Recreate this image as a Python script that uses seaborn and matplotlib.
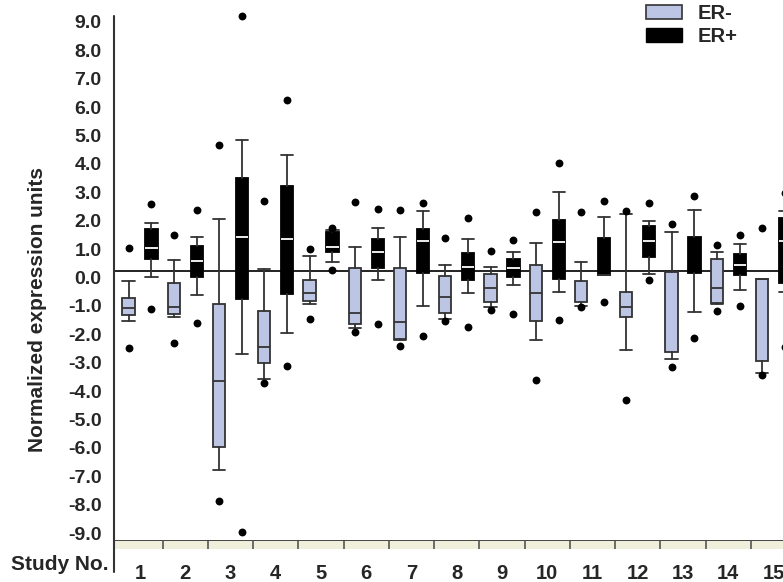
import matplotlib

matplotlib.use("Agg")
import matplotlib.pyplot as plt
import numpy as np
import pandas as pd
import seaborn as sns
from matplotlib.lines import Line2D
from matplotlib.patches import Patch

# values (normalized expression units)
studies = list(range(1, 16))
study_labels = [str(s) for s in studies]
baseline = 0.23

# ER- summaries: lower whisker, Q1, median, Q3, upper whisker
neg_low = [-1.54, -1.38, -6.78, -3.58, -0.94, -1.77, -2.20, -1.46, -1.03, -2.21, -0.99, -2.56, -2.88, -0.94, -3.37]
neg_q1 = [-1.33, -1.29, -5.96, -3.00, -0.82, -1.63, -2.17, -1.26, -0.86, -1.53, -0.86, -1.40, -2.62, -0.90, -2.93]
neg_med = [-1.08, -1.05, -3.66, -2.44, -0.53, -1.26, -1.57, -0.69, -0.36, -0.53, np.nan, -1.04, np.nan, -0.36, np.nan]
neg_q3 = [-0.73, -0.19, -0.93, -1.19, -0.09, 0.32, 0.35, 0.04, 0.13, 0.45, -0.13, -0.51, 0.19, 0.66, -0.05]
neg_high = [-0.13, 0.63, 2.05, 0.30, 0.77, 1.09, 1.44, 0.44, 0.36, 1.21, 0.53, 2.25, 1.61, 0.90, -0.05]
neg_out_hi = [1.04, 1.49, 4.67, 2.71, 1.00, 2.67, 2.37, 1.38, 0.94, 2.31, 2.32, 2.35, 1.89, 1.13, 1.73]
neg_out_lo = [-2.48, -2.30, -7.88, -3.73, -1.47, -1.93, -2.40, -1.54, -1.13, -3.62, -1.03, -4.32, -3.14, -1.19, -3.44]

# ER+ summaries
pos_low = [0.03, -0.61, -2.68, -1.95, 0.53, -0.09, -1.00, -0.53, -0.26, -0.50, 0.10, 0.13, -1.21, -0.45, -0.51]
pos_q1 = [0.64, 0.01, -0.74, -0.58, 0.89, 0.35, 0.15, -0.10, 0.03, -0.05, 0.10, 0.72, 0.17, 0.09, -0.19]
pos_med = [1.04, 0.59, 1.43, 1.35, 1.09, 0.91, 1.29, 0.38, 0.35, 1.26, np.nan, 1.29, np.nan, 0.44, 1.27]
pos_q3 = [1.72, 1.12, 3.51, 3.24, 1.60, 1.36, 1.71, 0.85, 0.66, 2.04, 1.40, 1.80, 1.44, 0.82, 2.08]
pos_high = [1.93, 1.43, 4.86, 4.32, 1.67, 1.75, 2.34, 1.36, 0.90, 3.02, 2.12, 1.98, 2.39, 1.17, 2.35]
pos_out_hi = [2.58, 2.37, 9.22, 6.25, 1.73, 2.41, 2.63, 2.08, 1.31, 4.02, 2.70, 2.61, 2.86, 1.50, 2.99]
pos_out_lo = [-1.10, -1.60, -8.97, -3.12, 0.26, -1.63, -2.06, -1.75, -1.30, -1.50, -0.85, -0.09, -2.13, -1.00, -2.46]

NEG_COLOR = "#bcc5e4"
EDGE = "#333333"
BAND = "#f0efdc"


def make_stats(low, q1, med, q3, high):
    return [
        dict(whislo=a, q1=b, med=c, q3=d, whishi=e, fliers=[])
        for a, b, c, d, e in zip(low, q1, med, q3, high)
    ]


sns.set_style("white")
plt.rcParams["font.family"] = ["Liberation Sans", "DejaVu Sans"]
plt.rcParams["font.weight"] = "bold"

W, H = 783, 582
fig = plt.figure(figsize=(W / 100, H / 100), dpi=100)
ax = fig.add_axes([114 / W, (H - 541) / H, 669 / W, 525 / H])
band = fig.add_axes([114 / W, (H - 549) / H, 669 / W, 8 / H], sharex=ax)

offset = 0.254
pos = np.array(studies, dtype=float)
line_kw = dict(color=EDGE, linewidth=1.3)

ax.bxp(
    make_stats(neg_low, neg_q1, neg_med, neg_q3, neg_high),
    positions=pos - offset,
    widths=0.27,
    capwidths=0.27,
    patch_artist=True,
    showfliers=False,
    manage_ticks=False,
    boxprops=dict(facecolor=NEG_COLOR, edgecolor=EDGE, linewidth=1.3),
    medianprops=line_kw,
    whiskerprops=line_kw,
    capprops=line_kw,
    zorder=3,
)
ax.bxp(
    make_stats(pos_low, pos_q1, pos_med, pos_q3, pos_high),
    positions=pos + offset,
    widths=0.27,
    capwidths=0.27,
    patch_artist=True,
    showfliers=False,
    manage_ticks=False,
    boxprops=dict(facecolor="black", edgecolor="black", linewidth=1.3),
    medianprops=dict(color="white", linewidth=1.3),
    whiskerprops=line_kw,
    capprops=line_kw,
    zorder=3,
)

outliers = pd.DataFrame({
    "x": np.concatenate([pos - offset, pos - offset, pos + offset, pos + offset]),
    "value": neg_out_hi + neg_out_lo + pos_out_hi + pos_out_lo,
})
sns.scatterplot(data=outliers, x="x", y="value", color="black", s=32, linewidth=0,
                ax=ax, clip_on=False, zorder=4, legend=False)

ax.axhline(baseline, color="#111111", linewidth=1.3, zorder=1)

ax.set_xlim(0.4254, 15.21)
ax.set_ylim(-9.28, 9.21)
yt = np.arange(-9, 10, 1)
ax.set_yticks(yt)
ax.set_yticklabels([f"{v:.1f}" for v in yt], fontsize=14)
ax.tick_params(axis="y", length=0, pad=9)
ax.tick_params(axis="x", bottom=False, labelbottom=False)
ax.set_xlabel("")
ax.set_ylabel("")
for side in ["top", "right", "left"]:
    ax.spines[side].set_visible(False)
ax.spines["bottom"].set_color(EDGE)
ax.spines["bottom"].set_linewidth(2)

band.set_facecolor(BAND)
band.set_ylim(0, 1)
band.set_yticks([])
band.set_xticks(studies)
band.set_xticklabels(study_labels, fontsize=14.5)
band.tick_params(axis="x", length=0, pad=11)
for side in band.spines:
    band.spines[side].set_visible(False)
band.vlines(pos[:-1] + 0.5, 0, 1, color="#555555", linewidth=1.2)

fig.add_artist(Line2D([114 / W, 114 / W], [(H - 16) / H, (H - 572) / H], color=EDGE, linewidth=1.5))
fig.text(38 / W, (H - 310) / H, "Normalized expression units", rotation=90,
         ha="center", va="center", fontsize=15, fontweight="bold")
fig.text(11 / W, (H - 564) / H, "Study No.", ha="left", va="center", fontsize=15, fontweight="bold")

handles = [
    Patch(facecolor=NEG_COLOR, edgecolor=EDGE, linewidth=1.2, label="ER-"),
    Patch(facecolor="black", edgecolor="black", label="ER+"),
]
fig.legend(handles=handles, loc="upper left", bbox_to_anchor=(646 / W, 1 - 4 / H),
           frameon=False, fontsize=14.5, handlelength=1.8, handleheight=0.65,
           handletextpad=0.75, labelspacing=0.2, borderpad=0, borderaxespad=0)

fig.savefig("out.png", dpi=100, facecolor="white")
plt.close(fig)
